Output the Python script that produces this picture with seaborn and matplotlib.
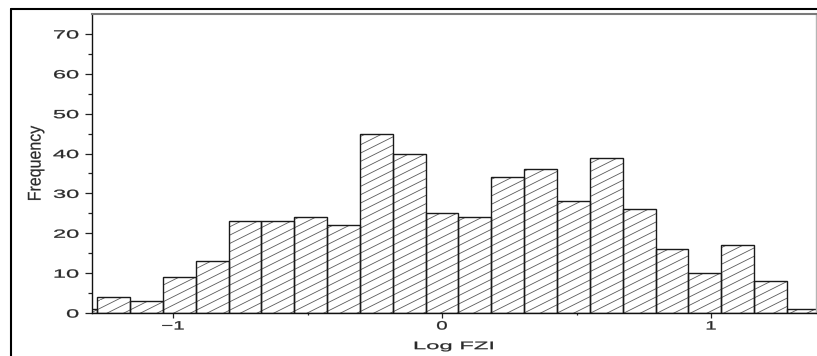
import numpy as np
import pandas as pd
import matplotlib
matplotlib.use("Agg")
import matplotlib.pyplot as plt
import matplotlib.hatch as mhatch
import matplotlib.patheffects as pe
from matplotlib.path import Path
from matplotlib.transforms import Affine2D
from matplotlib.lines import Line2D
import seaborn as sns

# Frequency of Log FZI in each histogram bin (left to right)
counts = [1, 4, 3, 9, 13, 23, 23, 24, 22, 45, 40, 25, 24, 34, 36, 28, 39, 26, 16, 10, 17, 8, 1]
log_fzi_min = -1.404
log_fzi_max = 1.404
x_ticks = [-1, 0, 1]
x_tick_labels = ["\u22121", "0", "1"]
x_minor_ticks = [-0.5, 0.5]
y_ticks = [0, 10, 20, 30, 40, 50, 60, 70]
y_minor_ticks = [5, 15, 25, 35, 45, 55, 65]


class ShallowHatch(mhatch.HatchPatternBase):
    """Parallel lines rising at half slope, drawn for the '/' hatch."""

    def __init__(self, hatch, density):
        self.num_lines = int((hatch.count('/') + hatch.count('x') + hatch.count('X')) * density) * 2
        self.num_vertices = 3 * self.num_lines if self.num_lines else 0

    def set_vertices_and_codes(self, vertices, codes):
        n = self.num_lines
        offsets = np.arange(-(n // 2), n) / n
        vertices[0::2, 0] = 0.0
        vertices[0::2, 1] = offsets
        vertices[1::2, 0] = 1.0
        vertices[1::2, 1] = offsets + 0.5
        codes[0::2] = Path.MOVETO
        codes[1::2] = Path.LINETO


mhatch._hatch_types = [ShallowHatch if t is mhatch.NorthEastHatch else t
                       for t in mhatch._hatch_types]


class WideGlyphs(pe.AbstractPathEffect):
    """Draws text glyphs widened horizontally about an anchor edge, slightly emboldened."""

    def __init__(self, sx, anchor="center", stroke=0.2):
        super().__init__()
        self.sx = sx
        self.anchor = anchor
        self.stroke = stroke

    def draw_path(self, renderer, gc, tpath, affine, rgbFace=None):
        ext = tpath.get_extents(affine)
        if self.anchor == "right":
            x0 = ext.x1
        elif self.anchor == "left":
            x0 = ext.x0
        else:
            x0 = 0.5 * (ext.x0 + ext.x1)
        widen = Affine2D().translate(-x0, 0).scale(self.sx, 1.0).translate(x0, 0)
        gc0 = renderer.new_gc()
        gc0.copy_properties(gc)
        if rgbFace is not None:
            gc0.set_foreground(rgbFace)
        gc0.set_linewidth(self.stroke)
        gc0.set_joinstyle("round")
        renderer.draw_path(gc0, tpath, affine + widen, rgbFace)
        gc0.restore()


sns.set_theme(style="ticks")
plt.rcParams["font.family"] = ["Liberation Sans", "DejaVu Sans"]
plt.rcParams["hatch.linewidth"] = 0.6
plt.rcParams["axes.unicode_minus"] = True

text_color = "#2a2a2a"

edges = np.linspace(log_fzi_min, log_fzi_max, len(counts) + 1).tolist()
centers = [0.5 * (a + b) for a, b in zip(edges[:-1], edges[1:])]
df = pd.DataFrame({"log_fzi": centers, "frequency": counts})

fig, ax = plt.subplots(figsize=(8.17, 3.56), dpi=100)
fig.patch.set_facecolor("white")
fig.subplots_adjust(left=92 / 817, right=816 / 817, bottom=1 - 313 / 356, top=1 - 14 / 356)

# hatched fill
sns.histplot(data=df, x="log_fzi", weights="frequency", bins=edges, stat="count",
             facecolor="white", edgecolor="#5a5a5a", linewidth=0, hatch="/",
             alpha=1, ax=ax)
# bar outlines
sns.histplot(data=df, x="log_fzi", weights="frequency", bins=edges, stat="count",
             fill=False, color="#1a1a1a", linewidth=1.0, ax=ax)

ax.set_xlim(-1.301, 1.39)
ax.set_ylim(0, 75)
ax.set_xticks(x_ticks, x_tick_labels)
ax.set_xticks(x_minor_ticks, minor=True)
ax.set_yticks(y_ticks)
ax.set_yticks(y_minor_ticks, minor=True)

ax.tick_params(axis="both", which="both", direction="out", color="#222222",
               labelcolor=text_color, width=0.9)
ax.tick_params(axis="y", which="major", length=5, pad=4.5, labelsize=8.5, left=True)
ax.tick_params(axis="y", which="minor", length=3, left=True)
ax.tick_params(axis="x", which="major", length=3.6, pad=1.8, labelsize=8.7, bottom=True)
ax.tick_params(axis="x", which="minor", length=1.5, bottom=True)

for lbl in ax.get_yticklabels():
    lbl.set_path_effects([WideGlyphs(2.0, "right")])
for lbl in ax.get_xticklabels():
    lbl.set_path_effects([WideGlyphs(1.7, "center")])

ax.set_xlabel("Log FZI", fontsize=7.8, color=text_color)
ax.set_ylabel("Frequency", fontsize=11.5, color=text_color)
ax.xaxis.label.set_path_effects([WideGlyphs(2.2, "center")])
ax.yaxis.label.set_path_effects([WideGlyphs(1.15, "center", stroke=0.15)])
ax.xaxis.set_label_coords(0.5, -0.094)
ax.yaxis.set_label_coords(-0.0677, 0.5)

for side in ["left", "bottom"]:
    ax.spines[side].set_color("#111111")
    ax.spines[side].set_linewidth(1.0)
ax.spines["top"].set_visible(True)
ax.spines["right"].set_visible(True)
ax.spines["top"].set_color("#7a7a7a")
ax.spines["top"].set_linewidth(1.5)
ax.spines["right"].set_color("#b5b5b5")
ax.spines["right"].set_linewidth(1.0)

# panel frame
fx = 10.7 / 817
fy = 1 - 9 / 356
fig.add_artist(Line2D([fx, fx], [0, fy], transform=fig.transFigure, color="black", lw=1.5))
fig.add_artist(Line2D([fx, 1], [fy, fy], transform=fig.transFigure, color="black", lw=1.5))

fig.savefig("out.png", dpi=100)
